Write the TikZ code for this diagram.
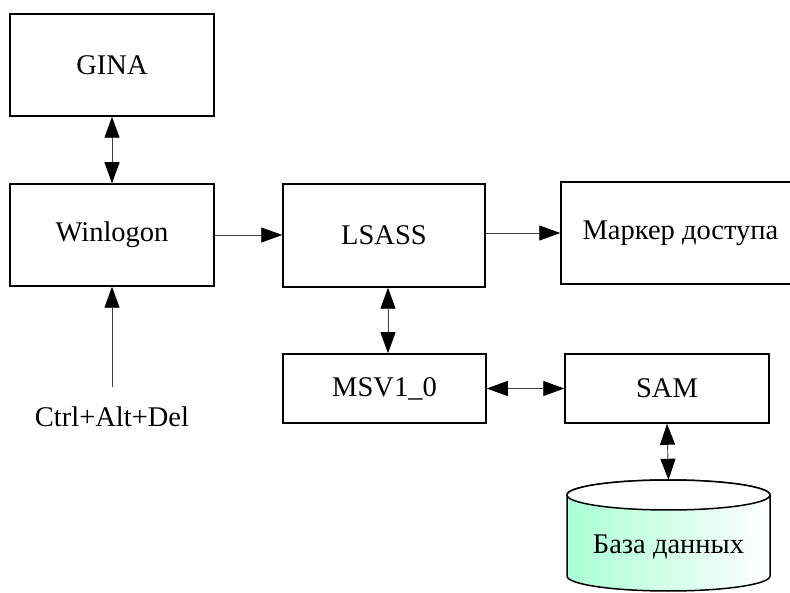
\documentclass[tikz,border=0pt]{standalone}
\usepackage{fontspec}
\setmainfont{Liberation Serif}
\usetikzlibrary{arrows.meta}
\definecolor{dbgreen}{RGB}{170,255,212}
\tikzset{
  box/.style={draw=black, line width=1.5pt, inner sep=0pt, font=\fontsize{28.5}{33}\selectfont},
  arr/.style={-{Triangle[length=21pt,width=15pt,color=black]}, line width=0.9pt, draw=black!75},
  darr/.style={{Triangle[length=21pt,width=15pt,color=black]}-{Triangle[length=21pt,width=15pt,color=black]}, line width=0.9pt, draw=black!75},
  txt/.style={inner sep=0pt, font=\fontsize{28.5}{33}\selectfont}
}
\begin{document}
\begin{tikzpicture}[x=1pt,y=1pt]
\useasboundingbox (0,0) rectangle (790,592);
\clip (0,0) rectangle (790,592);
\node[box, minimum width=204pt, minimum height=102pt] (gina) at (112,527) {GINA};
\node[box, minimum width=204pt, minimum height=102pt] (winlogon) at (112,357) {Winlogon};
\node[box, minimum width=202pt, minimum height=103pt] (lsass) at (384,356.5) {LSASS};
\node[box, minimum width=239pt, minimum height=102pt] (marker) at (680.5,359) {Маркер доступа};
\node[box, minimum width=203pt, minimum height=69pt] (msv) at (384.5,203.5) {MSV1\_0};
\node[box, minimum width=204pt, minimum height=69pt] (sam) at (667,203.5) {SAM};
% database cylinder
\node[inner sep=0pt, minimum width=203pt, minimum height=111pt] (db) at (668.5,56.5) {};
\shade[left color=dbgreen, right color=white, draw=black, line width=1.5pt]
  (567,97) -- (567,16) arc (180:360:101.5 and 15) -- (770,97) arc (0:180:101.5 and 15) -- cycle;
\filldraw[fill=white, draw=black, line width=1.5pt] (668.5,97) ellipse (101.5 and 15);
\node[txt] (dbtext) at (668.5,45) {База данных};
% Ctrl+Alt+Del
\node[txt] (ctrl) at (112,175) {Ctrl+Alt+Del};
\coordinate (ctrltop) at (112,205);
% connectors
\draw[darr] (gina.south) -- (winlogon.north);
\draw[arr] (winlogon.east) -- (lsass.west |- winlogon.east);
\draw[arr] (lsass.east |- marker.west) -- (marker.west);
\draw[darr] ([xshift=4pt]lsass.south) -- ([xshift=3.5pt]msv.north);
\draw[darr] (msv.east) -- (sam.west |- msv.east);
\draw[darr] (sam.south) -- (db.north);
\draw[arr] (ctrltop) -- (winlogon.south);
\end{tikzpicture}
\end{document}
